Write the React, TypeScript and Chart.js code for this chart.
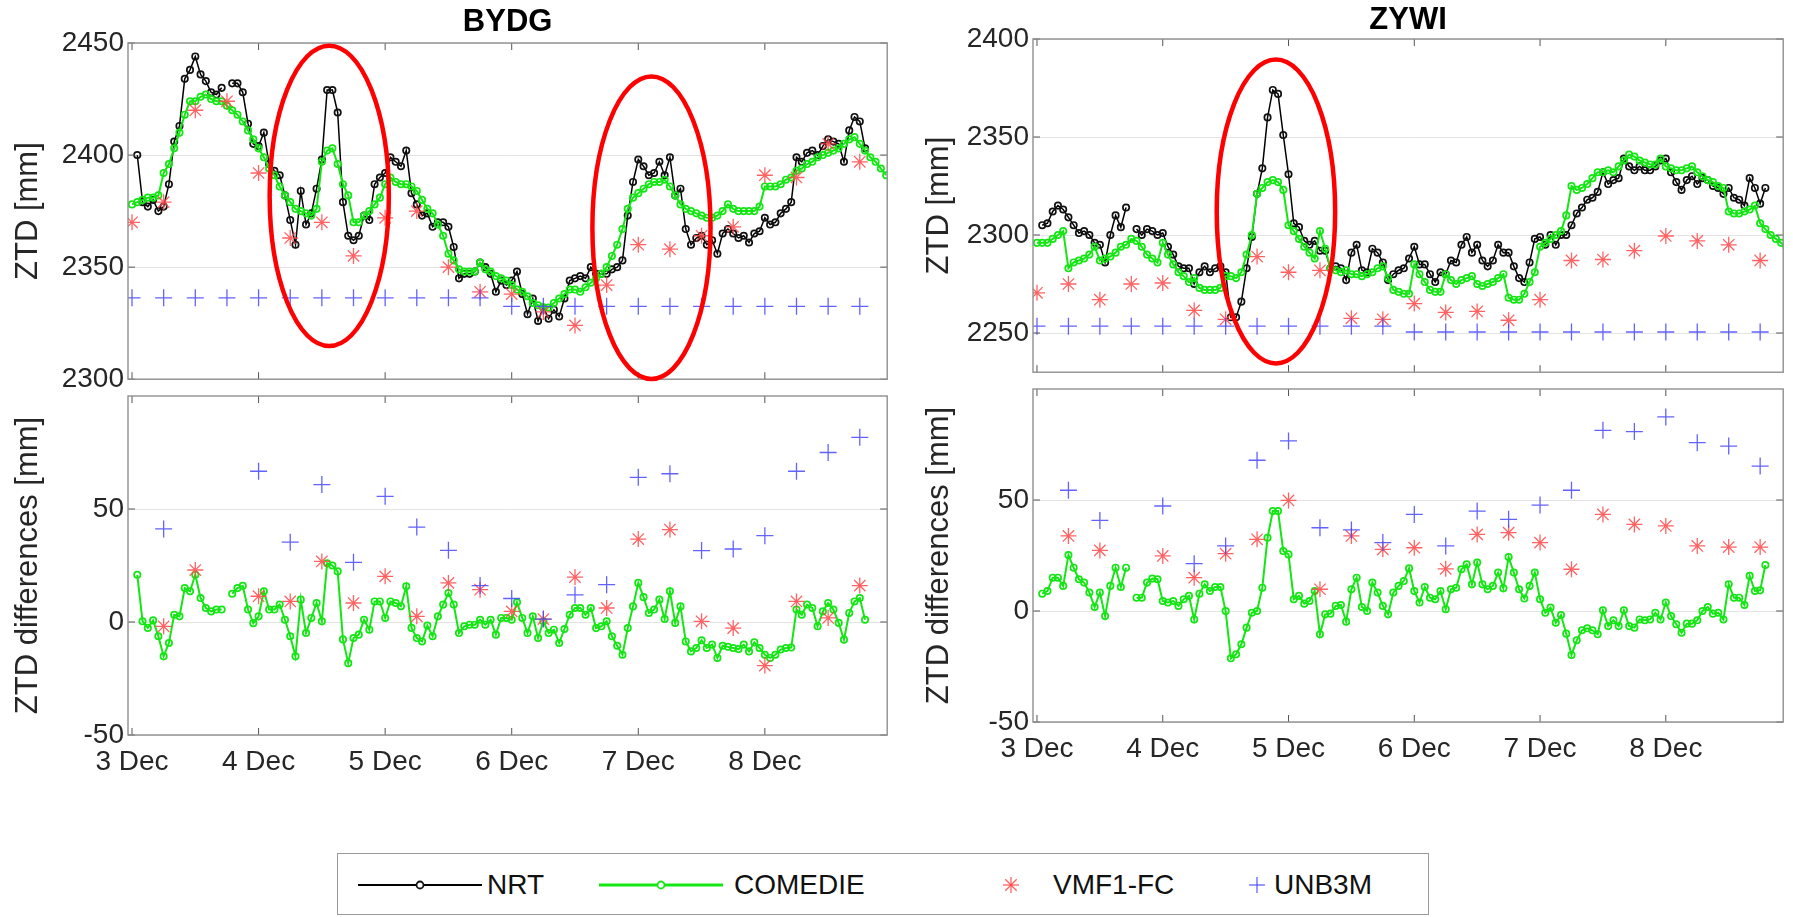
import React, { useEffect, useRef } from "react";
import { Chart, registerables } from "chart.js";

Chart.register(...registerables);

const FONT = "'Liberation Sans', Arial, Helvetica, sans-serif";

// ---------- axis / tick data ----------
const DAY_TICKS = [0, 24, 48, 72, 96, 120];
const DAY_LABELS = ["3 Dec", "4 Dec", "5 Dec", "6 Dec", "7 Dec", "8 Dec"];
const HOURS = Array.from({ length: 144 }, (_, i) => i);
const SIX_HOURS = [0, 6, 12, 18, 24, 30, 36, 42, 48, 54, 60, 66, 72, 78, 84, 90, 96, 102, 108, 114, 120, 126, 132, 138];

const BYDG_ZTD_TICKS = [2300, 2350, 2400, 2450];
const ZYWI_ZTD_TICKS = [2250, 2300, 2350, 2400];
const DIFF_TICKS = [-50, 0, 50];

// ---------- BYDG ----------
const BYDG_NRT = [
  null, 2400, 2379, 2377, 2380, 2375, 2377, 2387, 2406, 2413, 2434, 2438, 2444, 2436, 2433, 2428, 2427, 2430, null, 2432,
  2432, 2428, 2414, 2405, 2404, 2410, 2396, 2393, 2391, 2382, 2371, 2360, 2384, 2369, 2374, 2385, 2398, 2429, 2429, 2419,
  2379, 2364, 2362, 2364, 2373, 2371, 2387, 2390, 2392, 2399, 2397, 2395, 2402, 2383, 2378, 2373, 2374, 2368, 2370, 2370,
  2368, 2359, 2345, 2347, 2347, 2348, 2352, 2350, 2347, 2339, 2344, 2342, 2344, 2348, 2338, 2329, 2336, 2326, 2332, 2327,
  2331, 2328, 2336, 2344, 2345, 2346, 2345, 2350, 2347, 2347, 2347, 2349, 2350, 2353, 2373, 2388, 2398, 2395, 2391, 2392,
  2397, 2391, 2399, 2382, 2385, 2367, 2360, 2363, 2364, 2360, 2362, 2356, 2365, 2367, 2365, 2363, 2364, 2361, 2365, 2366,
  2372, 2369, 2370, 2374, 2376, 2379, 2399, 2397, 2401, 2402, 2400, 2404, 2407, 2406, 2405, 2397, 2411, 2417, 2415, 2403,
  null, null, null, null,
];
const BYDG_COMEDIE = [
  2378, 2379, 2380, 2381, 2381, 2382, 2392, 2396, 2403, 2410, 2418, 2424, 2424, 2426, 2427, 2425, 2424, 2424, 2422, 2420,
  2418, 2415, 2411, 2407, 2403, 2399, 2394, 2391, 2386, 2382, 2379, 2376, 2375, 2374, 2373, 2376, 2397, 2402, 2403, 2396,
  2387, 2382, 2370, 2370, 2373, 2375, 2378, 2381, 2387, 2390, 2388, 2387, 2387, 2386, 2384, 2380, 2376, 2374, 2369, 2364,
  2356, 2353, 2349, 2348, 2348, 2348, 2352, 2349, 2348, 2346, 2345, 2344, 2342, 2340, 2339, 2337, 2334, 2333, 2332, 2332,
  2334, 2336, 2338, 2340, 2340, 2339, 2341, 2343, 2345, 2347, 2350, 2355, 2360, 2367, 2376, 2381, 2383, 2385, 2387, 2388,
  2388, 2389, 2386, 2382, 2378, 2376, 2375, 2374, 2373, 2372, 2372, 2373, 2375, 2378, 2376, 2375, 2375, 2375, 2375, 2377,
  2386, 2386, 2386, 2387, 2389, 2390, 2393, 2394, 2396, 2397, 2399, 2400, 2401, 2402, 2403, 2405, 2407, 2408, 2405, 2402,
  2399, 2397, 2394, 2391,
];
const BYDG_VMF1 = [2370, 2379, 2420, 2424, 2392, 2363, 2370, 2355, 2372, 2375, 2350, 2339, 2338, 2330, 2324, 2342, 2360, 2358, 2364, 2368, 2391, 2390, 2405, 2397];
const BYDG_UNB3M = [2336.3, 2336.3, 2336.3, 2336.3, 2336.3, 2336.3, 2336.3, 2336.3, 2336.3, 2336.3, 2336.3, 2336.3, 2332.5, 2332.5, 2332.5, 2332.5, 2332.5, 2332.5, 2332.5, 2332.5, 2332.5, 2332.5, 2332.5, 2332.5];

const BYDG_DIFF_COMEDIE = [
  null, 20.9, 0.3, -2.6, 0.7, -6.3, -15.2, -9.3, 3.2, 2.5, 15, 13.6, 20.9, 10.6, 6.2, 4.7, 5.5, 5.5, null, 12.5,
  15, 16, 5.5, -0.5, 2.5, 13.6, 5.5, 5.5, 7.7, 1, -6.3, -15.2, 9.9, -4.9, 1.8, 8.4, 0.3, 26, 25, 22.4,
  -7.7, -18.2, -7.1, -5.6, 1, -3.4, 9.1, 9.1, 1.8, 9.1, 8.4, 7, 15.8, -2.6, -7.1, -8.6, -1.6, -6.3, 2.5, 7.7,
  12.8, 7.7, -4.9, -1.9, -1.2, -1.2, 1, -1.2, 1, -5.6, 1.8, 1.8, 1, 8.7, 1.8, -4.9, 2.5, -7.1, 0.3, -4.9,
  -3.4, -9.3, -3.1, 3.2, 6.2, 6.2, 3.2, 6.2, -2.7, -1.9, 0.3, -6.3, -10.5, -14.5, -2.7, 6.9, 17.3, 11, 4, 5.5,
  9.9, 1.3, 13.6, -0.4, 6.9, -8.6, -13, -11.5, -8.1, -11.5, -10, -15.9, -10.5, -11, -11.5, -12, -10, -13, -9, -11.5,
  -14.5, -15.9, -14.5, -12.2, -11.5, -11.3, 5.5, 3.2, 7.7, 6.2, -1.9, 4.7, 8.4, 5.5, -0.4, -7.8, 4, 9.1, 10.6, 1,
  null, null, null, null,
];
const BYDG_DIFF_VMF1 = [null, -1.9, 23, null, 11.4, 9.1, 26.8, 8.4, 20.2, 2.5, 17.3, 14.3, 4.7, 1.3, 19.9, 6.2, 36.7, 40.9, 0.3, -2.7, -19.3, 9.1, 1.8, 16.1];
const BYDG_DIFF_UNB3M = [null, 41.2, null, null, 66.7, 35.3, 60.8, 26.4, 55.6, 42, 31.7, 16.1, 10.4, 1.3, 12, 16.5, 64, 65.6, 31.6, 32.3, 38.2, 66.7, 75, 81.7];

// ---------- ZYWI ----------
const ZYWI_NRT = [
  null, 2305, 2306, 2312, 2315, 2313, 2309, 2305, 2301, 2302, 2300, 2296, 2295, 2286, 2300, 2310, 2304, 2314, null, 2303,
  2300, 2303, 2302, 2300, 2301, 2294, 2290, 2284, 2283, 2283, 2275, 2281, 2284, 2281, 2283, 2284, 2281, 2258, 2258, 2266,
  2283, 2299, 2321, 2334, 2360, 2374, 2372, 2351, 2331, 2306, 2304, 2297, 2295, 2297, 2292, 2292, 2283, 2284, 2283, 2277,
  2291, 2295, 2282, 2281, 2293, 2291, 2286, 2277, 2280, 2282, 2283, 2288, 2294, 2285, 2285, 2280, 2276, 2281, 2280, 2287,
  2286, 2295, 2299, 2291, 2295, 2287, 2284, 2287, 2295, 2291, 2291, 2284, 2278, 2276, 2286, 2298, 2299, 2295, 2300, 2295,
  2300, 2300, 2305, 2311, 2314, 2318, 2319, 2322, 2332, 2326, 2328, 2329, 2339, 2335, 2333, 2335, 2333, 2333, 2335, 2338,
  2339, 2332, 2327, 2323, 2328, 2330, 2326, 2329, 2328, 2325, 2324, 2321, 2324, 2319, 2318, 2315, 2329, 2324, 2316, 2324,
  null, null, null, null,
];
const ZYWI_COMEDIE = [
  2296, 2296, 2296, 2298, 2300, 2302, 2283, 2286, 2287, 2288, 2290, 2294, 2287, 2288, 2289, 2291, 2294, 2295, 2298, 2297,
  2294, 2290, 2288, 2286, 2296, 2290, 2285, 2281, 2279, 2276, 2278, 2273, 2272, 2272, 2272, 2273, 2279, 2279, 2278, 2281,
  2290, 2300, 2321, 2324, 2327, 2328, 2327, 2323, 2305, 2302, 2298, 2294, 2291, 2288, 2302, 2293, 2283, 2282, 2281, 2282,
  2280, 2280, 2279, 2280, 2281, 2283, 2284, 2278, 2272, 2271, 2270, 2270, 2285, 2280, 2276, 2272, 2271, 2271, 2280, 2277,
  2275, 2277, 2278, 2279, 2275, 2274, 2275, 2276, 2278, 2280, 2268, 2267, 2267, 2270, 2276, 2281, 2294, 2296, 2298, 2300,
  2302, 2310, 2325, 2323, 2324, 2326, 2329, 2332, 2332, 2333, 2332, 2335, 2338, 2341, 2340, 2338, 2337, 2336, 2336, 2339,
  2335, 2334, 2333, 2333, 2334, 2335, 2332, 2330, 2328, 2327, 2325, 2324, 2312, 2311, 2311, 2312, 2313, 2315, 2306, 2303,
  2300, 2298, 2296, 2294,
];
const ZYWI_VMF1 = [2270.5, 2275, 2267, 2275, 2275.5, 2261.5, 2257, 2289, 2281, 2282, 2257.5, 2257, 2265, 2260.5, 2261, 2256.5, 2267, 2287, 2287.5, 2292, 2299.5, 2297, 2295, 2287];
const ZYWI_UNB3M = [2253.5, 2253.5, 2253.5, 2253.5, 2253.5, 2253.5, 2253.5, 2253.5, 2253.5, 2253.5, 2253.5, 2253.5, 2250.5, 2250.5, 2250.5, 2250.5, 2250.5, 2250.5, 2250.5, 2250.5, 2250.5, 2250.5, 2250.5, 2250.5];

const ZYWI_DIFF_COMEDIE = [
  null, 7.8, 9, 15, 15, 11.3, 25.2, 19.5, 14.3, 12.8, 8.3, 1.8, 8.3, -2.3, 11.3, 19.5, 10.8, 19.5, null, 6,
  6, 12.8, 14.6, 14.3, 4.5, 3.8, 4.5, 2.3, 5.3, 6.8, -3.8, 7.8, 12, 9, 10.8, 10.8, 0, -21.3, -19.5, -15,
  -7.5, -0.8, 0, 10.5, 33, 45, 45, 27, 25.5, 5.3, 6.8, 3.3, 4.5, 9, -10.5, -1.5, -1.2, 2.3, 2.7, -4.8,
  9.8, 15, 1.8, 0, 12.8, 8.3, 2.3, -1.5, 8.3, 11.3, 13.5, 19.2, 9, 3.8, 10.8, 6, 5.3, 9, 0.8, 9.8,
  10.5, 18.8, 21, 12, 21.8, 12, 9.8, 11.3, 17.3, 10.2, 24.3, 17.3, 9.8, 5.6, 11.3, 17.3, 5.3, -0.8, 1.5, -5.3,
  -1.8, -10.2, -19.8, -13.2, -8.7, -7.8, -8.7, -10.5, 0.3, -6.8, -4.2, -6.8, 0.3, -6.8, -7.5, -3.8, -4.2, -3.8, -0.8, -3.8,
  3.8, -2.3, -6, -9.8, -5.7, -5.7, -4.2, 0, 1.8, -1.2, -0.8, -3.8, 12, 6, 6, 2.7, 15.8, 9, 9.3, 20.7,
  null, null, null, null,
];
const ZYWI_DIFF_VMF1 = [null, 33.8, 27.3, null, 24.8, 15, 25.8, 32.3, 49.8, 9.8, 33.8, 27.8, 28.5, 19, 34.5, 35.3, 30.8, 18.8, 43.5, 39, 38.3, 29.3, 28.8, 28.8];
const ZYWI_DIFF_UNB3M = [null, 54.4, 40.8, null, 47.3, 21.3, 29.3, 67.9, 76.6, 37.5, 36.5, 30.8, 43.5, 29.3, 45, 41.3, 47.7, 54.4, 81.4, 80.8, 87.4, 75.8, 74.3, 65.3];

// ---------- annotations (red ellipses, data coordinates) ----------
const BYDG_ELLIPSES = [
  { cx: 37.4, cy: 2381.8, rx: 11.3, ry: 67 },
  { cx: 98.5, cy: 2367.6, rx: 11.2, ry: 67.5 },
];
const ZYWI_ELLIPSES = [{ cx: 45.6, cy: 2312, rx: 11.3, ry: 77.5 }];

// ---------- styles ----------
const C_NRT = "#000000";
const C_COM = "#14e614";
const C_VMF = "rgba(255,70,70,0.85)";
const C_UNB = "rgba(70,70,255,0.85)";

function xy(xs: number[], ys: (number | null)[]) {
  return xs.map((x, i) => ({ x, y: ys[i] }));
}

function seriesSets(nrt: any, com: any, vmf: any, unb: any, xsHourly: number[], xs6: number[]) {
  const sets: any[] = [];
  if (nrt)
    sets.push({
      label: "NRT",
      data: xy(xsHourly, nrt),
      borderColor: C_NRT,
      borderWidth: 1.5,
      pointStyle: "circle",
      pointRadius: 3.2,
      pointBorderWidth: 1.7,
      pointBorderColor: "#111",
      pointBackgroundColor: "rgba(255,255,255,0)",
      showLine: true,
      spanGaps: false,
      order: 3,
    });
  if (com)
    sets.push({
      label: "COMEDIE",
      data: xy(xsHourly, com),
      borderColor: C_COM,
      borderWidth: 2,
      pointStyle: "circle",
      pointRadius: 3.2,
      pointBorderWidth: 1.7,
      pointBorderColor: C_COM,
      pointBackgroundColor: "rgba(255,255,255,0)",
      showLine: true,
      spanGaps: false,
      order: 2,
    });
  sets.push({
    label: "VMF1-FC",
    data: xy(xs6, vmf),
    borderColor: C_VMF,
    showLine: false,
    pointStyle: "star",
    pointRadius: 8,
    pointBorderWidth: 1.3,
    pointBorderColor: C_VMF,
    pointBackgroundColor: C_VMF,
    order: 1,
  });
  sets.push({
    label: "UNB3M",
    data: xy(xs6, unb),
    borderColor: C_UNB,
    showLine: false,
    pointStyle: "cross",
    pointRadius: 8.5,
    pointBorderWidth: 1.3,
    pointBorderColor: C_UNB,
    pointBackgroundColor: C_UNB,
    order: 0,
  });
  return sets;
}

const decorPlugin = {
  id: "decor",
  afterDatasetsDraw(chart: any, _args: any, opts: any) {
    const { ctx, chartArea: a, scales } = chart;
    const xs = scales.x;
    const ys = scales.y;
    ctx.save();
    const line = (x1: number, y1: number, x2: number, y2: number) => {
      ctx.beginPath();
      ctx.moveTo(x1, y1);
      ctx.lineTo(x2, y2);
      ctx.stroke();
    };
    ctx.strokeStyle = "#555";
    ctx.lineWidth = 1;
    for (const v of DAY_TICKS) {
      const px = xs.getPixelForValue(v);
      line(px, a.bottom, px, a.bottom - 7);
      line(px, a.top, px, a.top + 7);
    }
    for (const v of opts.yTicks) {
      const py = ys.getPixelForValue(v);
      line(a.left, py, a.left + 7, py);
      line(a.right, py, a.right - 7, py);
    }
    ctx.strokeStyle = "#8f8f8f";
    ctx.lineWidth = 1.4;
    ctx.strokeRect(a.left, a.top, a.right - a.left, a.bottom - a.top);
    ctx.strokeStyle = "#ff0000";
    ctx.lineWidth = 4.5;
    for (const e of opts.ellipses || []) {
      const cx = xs.getPixelForValue(e.cx);
      const cy = ys.getPixelForValue(e.cy);
      const rx = Math.abs(xs.getPixelForValue(e.cx + e.rx) - cx);
      const ry = Math.abs(ys.getPixelForValue(e.cy + e.ry) - cy);
      ctx.beginPath();
      ctx.ellipse(cx, cy, rx, ry, 0, 0, Math.PI * 2);
      ctx.stroke();
    }
    if (opts.title) {
      ctx.font = `bold 31px ${FONT}`;
      ctx.fillStyle = "#000";
      ctx.textAlign = "center";
      ctx.textBaseline = "middle";
      ctx.fillText(opts.title, (a.left + a.right) / 2, opts.titleY);
    }
    ctx.restore();
  },
};

type PanelProps = {
  L: number; T: number; R: number; B: number;
  canvasLeft: number; canvasTop: number; xH: number;
  yMin: number; yMax: number; yTicks: number[]; yLabel: string;
  xMax: number; showX: boolean; title?: string; titleY?: number;
  datasets: any[]; ellipses?: any[];
};

function Panel(p: PanelProps) {
  const ref = useRef<HTMLCanvasElement | null>(null);
  const padRight = 8;
  const W = p.R - p.canvasLeft + padRight;
  const H = p.B - p.canvasTop + p.xH;
  const yW = p.L - p.canvasLeft;
  const padTop = p.T - p.canvasTop;
  useEffect(() => {
    if (!ref.current) return;
    const chart = new Chart(ref.current, {
      type: "scatter",
      data: { datasets: p.datasets },
      plugins: [decorPlugin],
      options: {
        responsive: false,
        animation: false,
        maintainAspectRatio: false,
        layout: { padding: { top: padTop, right: padRight, left: 0, bottom: 0 } },
        plugins: {
          legend: { display: false },
          tooltip: { enabled: false },
          decor: { yTicks: p.yTicks, ellipses: p.ellipses, title: p.title, titleY: p.titleY },
        } as any,
        scales: {
          x: {
            type: "linear",
            min: -0.76,
            max: p.xMax,
            afterBuildTicks: (s: any) => {
              s.ticks = DAY_TICKS.map((v) => ({ value: v }));
            },
            afterFit: (s: any) => {
              s.height = p.xH;
            },
            ticks: {
              display: p.showX,
              autoSkip: false,
              maxRotation: 0,
              padding: 10,
              color: "#262626",
              font: { family: FONT, size: 28 },
              callback: (v: any) => DAY_LABELS[DAY_TICKS.indexOf(Number(v))] ?? "",
            },
            grid: { display: false, drawTicks: false },
            border: { display: false },
          },
          y: {
            type: "linear",
            min: p.yMin,
            max: p.yMax,
            afterBuildTicks: (s: any) => {
              s.ticks = p.yTicks.map((v) => ({ value: v }));
            },
            afterFit: (s: any) => {
              s.width = yW;
            },
            ticks: {
              padding: 4,
              color: "#262626",
              font: { family: FONT, size: 28 },
              callback: (v: any) => String(v),
            },
            grid: { color: "#e4e4e4", lineWidth: 1, drawTicks: false },
            border: { display: false },
            title: {
              display: true,
              text: p.yLabel,
              color: "#262626",
              font: { family: FONT, size: 31 },
              padding: { top: 2, bottom: 2 },
            },
          },
        },
      } as any,
    });
    return () => chart.destroy();
  }, []);
  return (
    <canvas
      ref={ref}
      width={W}
      height={H}
      style={{ position: "absolute", left: p.canvasLeft, top: p.canvasTop, width: W, height: H }}
    />
  );
}

function LegendIcon({ kind }: { kind: string }) {
  if (kind === "NRT" || kind === "COM") {
    const c = kind === "NRT" ? "#000" : C_COM;
    return (
      <svg width={124} height={20} style={{ position: "absolute", left: 0, top: -10 }}>
        <line x1={0} y1={10} x2={124} y2={10} stroke={c} strokeWidth={kind === "NRT" ? 2 : 3} />
        <circle cx={62} cy={10} r={3.5} stroke={kind === "NRT" ? "#111" : C_COM} strokeWidth={1.8} fill="white" />
      </svg>
    );
  }
  if (kind === "VMF") {
    return (
      <svg width={20} height={20} style={{ position: "absolute", left: -10, top: -10 }}>
        <g stroke={C_VMF} strokeWidth={1.3}>
          <line x1={10} y1={2} x2={10} y2={18} />
          <line x1={2} y1={10} x2={18} y2={10} />
          <line x1={4.3} y1={4.3} x2={15.7} y2={15.7} />
          <line x1={4.3} y1={15.7} x2={15.7} y2={4.3} />
        </g>
      </svg>
    );
  }
  return (
    <svg width={20} height={20} style={{ position: "absolute", left: -10, top: -10 }}>
      <g stroke={C_UNB} strokeWidth={1.3}>
        <line x1={10} y1={2} x2={10} y2={18} />
        <line x1={2} y1={10} x2={18} y2={10} />
      </g>
    </svg>
  );
}

function Legend() {
  const top = 853;
  const h = 62;
  const cy = h / 2;
  const items = [
    { kind: "NRT", iconX: 357 - 337, textX: 486 - 337, text: "NRT" },
    { kind: "COM", iconX: 598 - 337, textX: 733 - 337, text: "COMEDIE" },
    { kind: "VMF", iconX: 1010 - 337, textX: 1052 - 337, text: "VMF1-FC" },
    { kind: "UNB", iconX: 1256 - 337, textX: 1273 - 337, text: "UNB3M" },
  ];
  return (
    <div
      style={{
        position: "absolute",
        left: 337,
        top,
        width: 1092,
        height: h,
        border: "1.5px solid #9a9a9a",
        boxSizing: "border-box",
        background: "#fff",
      }}
    >
      {items.map((it) => (
        <React.Fragment key={it.kind}>
          <div style={{ position: "absolute", left: it.iconX, top: cy }}>
            <LegendIcon kind={it.kind} />
          </div>
          <div
            style={{
              position: "absolute",
              left: it.textX,
              top: cy - 17,
              height: 34,
              lineHeight: "34px",
              fontFamily: FONT,
              fontSize: 28,
              color: "#111",
              whiteSpace: "nowrap",
            }}
          >
            {it.text}
          </div>
        </React.Fragment>
      ))}
    </div>
  );
}

export default function App() {
  const bydgTop = seriesSets(BYDG_NRT, BYDG_COMEDIE, BYDG_VMF1, BYDG_UNB3M, HOURS, SIX_HOURS);
  const bydgBot = seriesSets(null, BYDG_DIFF_COMEDIE, BYDG_DIFF_VMF1, BYDG_DIFF_UNB3M, HOURS, SIX_HOURS);
  const zywiTop = seriesSets(ZYWI_NRT, ZYWI_COMEDIE, ZYWI_VMF1, ZYWI_UNB3M, HOURS, SIX_HOURS);
  const zywiBot = seriesSets(null, ZYWI_DIFF_COMEDIE, ZYWI_DIFF_VMF1, ZYWI_DIFF_UNB3M, HOURS, SIX_HOURS);
  return (
    <div style={{ position: "absolute", left: 0, top: 0, width: 1793, height: 917, background: "#fff", overflow: "hidden" }}>
      <Panel
        L={128} T={43} R={889} B={380} canvasLeft={8} canvasTop={0} xH={20}
        yMin={2300} yMax={2450} yTicks={BYDG_ZTD_TICKS} yLabel="ZTD [mm]"
        xMax={143.2} showX={false} title="BYDG" titleY={22}
        datasets={bydgTop} ellipses={BYDG_ELLIPSES}
      />
      <Panel
        L={128} T={396} R={889} B={735} canvasLeft={8} canvasTop={371} xH={55}
        yMin={-50} yMax={100} yTicks={DIFF_TICKS} yLabel="ZTD differences [mm]"
        xMax={143.2} showX={true}
        datasets={bydgBot}
      />
      <Panel
        L={1033} T={39} R={1785} B={373} canvasLeft={919} canvasTop={0} xH={20}
        yMin={2230} yMax={2400} yTicks={ZYWI_ZTD_TICKS} yLabel="ZTD [mm]"
        xMax={142.4} showX={false} title="ZYWI" titleY={20}
        datasets={zywiTop} ellipses={ZYWI_ELLIPSES}
      />
      <Panel
        L={1033} T={389} R={1785} B={722} canvasLeft={919} canvasTop={364} xH={55}
        yMin={-50} yMax={100} yTicks={DIFF_TICKS} yLabel="ZTD differences [mm]"
        xMax={142.4} showX={true}
        datasets={zywiBot}
      />
      <Legend />
    </div>
  );
}
